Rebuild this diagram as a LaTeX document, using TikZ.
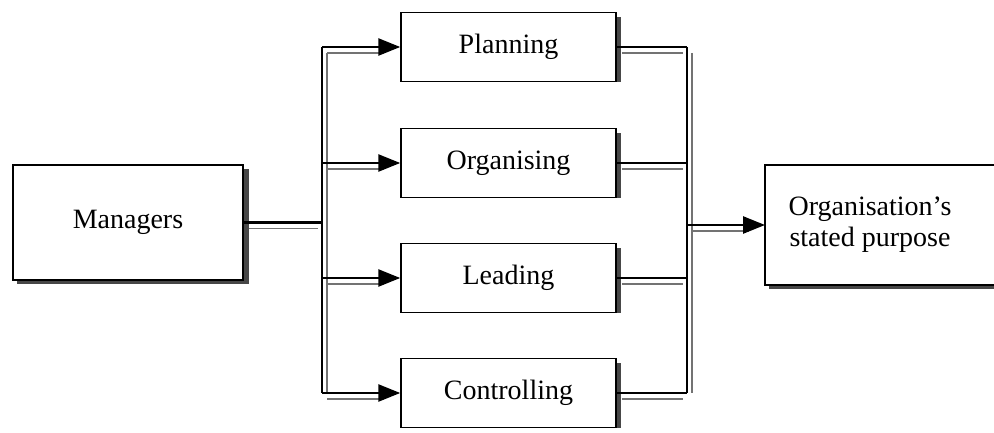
\documentclass[tikz,border=0pt]{standalone}
\usepackage{fontspec}
\setmainfont{Liberation Serif}
\usetikzlibrary{arrows.meta,calc}

\begin{document}
\begin{tikzpicture}[x=1pt,y=1pt,
  label text/.style={font=\fontsize{28}{31}\selectfont, align=center, text=black},
  taskbox/.style={label text, draw=black, line width=1.5pt, fill=white,
    minimum width=215pt, minimum height=69pt, inner sep=0pt},
  bigbox/.style={label text, draw=black, line width=1.5pt, fill=white,
    minimum width=230pt, minimum height=115pt, inner sep=0pt},
  boxshadow/.style={fill=black!72, draw=none},
  link/.style={draw=black, line width=2.6pt},
  linkshade/.style={draw=black!55, line width=1.1pt},
  tip/.style={-{Triangle[length=22pt,width=17pt]}}
]
\useasboundingbox (0,0) rectangle (994,432);

% shadows behind the boxes
\fill[boxshadow] (17,148) rectangle (249,263);
\foreach \yy in {385,269,154,39}
  \fill[boxshadow] (405,\yy-35) rectangle (621,\yy+30);
\fill[boxshadow] (769,143) rectangle (1000,148);

% boxes
\node[bigbox] (mgr) at (128,209.5) {Managers};
\node[taskbox] (plan) at (508.5,385) {Planning};
\node[taskbox] (org)  at (508.5,269) {Organising};
\node[taskbox] (lead) at (508.5,154) {Leading};
\node[taskbox] (ctrl) at (508.5,39)  {Controlling};

% outcome box, open on the right where the page ends
\fill[white] (765,147) rectangle (1000,267);
\draw[black, line width=1.5pt] (1000,267) -- (765,267) -- (765,147) -- (1000,147);
\node[label text, inner sep=0pt] (purpose) at (870,207) {Organisation's\\stated purpose};

% bus positions
\coordinate (lbusT) at (322,385);
\coordinate (lbusB) at (322,39);
\coordinate (lbusM) at (322,209.5);
\coordinate (rbusT) at (687,385);
\coordinate (rbusB) at (687,39);
\coordinate (rbusM) at (687,207);
\coordinate (outin) at (765,207);

% faint lines offset below and right of each connector
\begin{scope}[linkshade]
  \draw ($(mgr.east)+(5,-6)$) -- ($(lbusM)+(-4,-6)$);
  \draw ($(lbusT)+(5,-6)$) -- ($(lbusB)+(5,0)$);
  \foreach \n in {plan,org,lead,ctrl} {
    \draw ($(lbusT |- \n.west)+(5,-6)$) -- ($(\n.west)+(-16,-6)$);
    \draw ($(\n.east)+(5,-6)$) -- ($(rbusT |- \n.east)+(-4,-6)$);
  }
  \draw ($(rbusT)+(5,-6)$) -- ($(rbusB)+(5,0)$);
  \draw ($(rbusM)+(5,-6)$) -- ($(outin)+(-16,-6)$);
\end{scope}

% connectors
\draw[link] (mgr.east) -- (lbusM);
\draw[link] (lbusT) -- (lbusB);
\foreach \n in {plan,org,lead,ctrl} {
  \draw[link, tip] (lbusT |- \n.west) -- (\n.west);
  \draw[link] (\n.east) -- (rbusT |- \n.east);
}
\draw[link] (rbusT) -- (rbusB);
\draw[link, tip] (rbusM) -- (outin);
\end{tikzpicture}
\end{document}
